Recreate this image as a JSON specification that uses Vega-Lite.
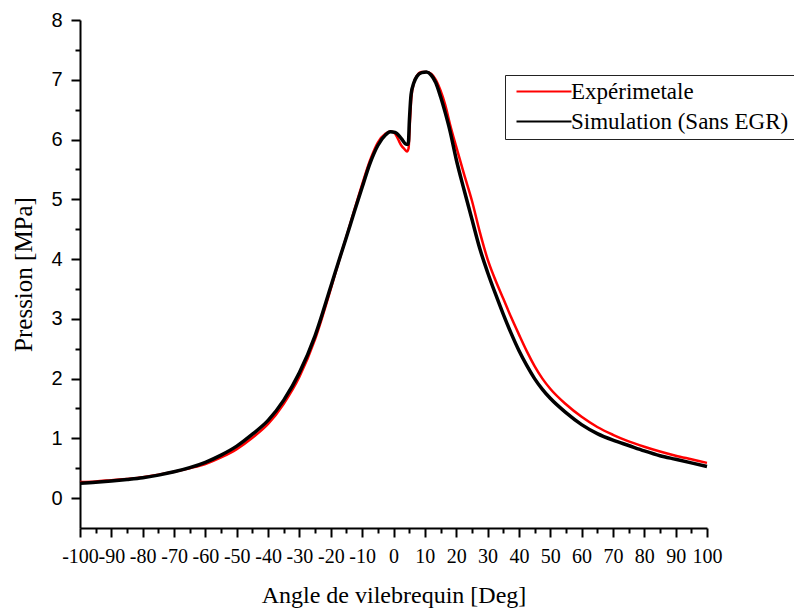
{
  "$schema": "https://vega.github.io/schema/vega-lite/v6.json",
  "width": 627,
  "height": 508,
  "autosize": "none",
  "padding": {"left": 80, "top": 20, "right": 87, "bottom": 82},
  "background": "white",
  "config": {"view": {"stroke": null}},
  "datasets": {
    "curves": [
      {"angle": -100, "pression": 0.27, "serie": "Expérimetale"},
      {"angle": -95, "pression": 0.28, "serie": "Expérimetale"},
      {"angle": -90, "pression": 0.30, "serie": "Expérimetale"},
      {"angle": -85, "pression": 0.32, "serie": "Expérimetale"},
      {"angle": -80, "pression": 0.35, "serie": "Expérimetale"},
      {"angle": -75, "pression": 0.39, "serie": "Expérimetale"},
      {"angle": -70, "pression": 0.44, "serie": "Expérimetale"},
      {"angle": -65, "pression": 0.50, "serie": "Expérimetale"},
      {"angle": -60, "pression": 0.57, "serie": "Expérimetale"},
      {"angle": -55, "pression": 0.68, "serie": "Expérimetale"},
      {"angle": -50, "pression": 0.82, "serie": "Expérimetale"},
      {"angle": -45, "pression": 1.01, "serie": "Expérimetale"},
      {"angle": -40, "pression": 1.24, "serie": "Expérimetale"},
      {"angle": -35, "pression": 1.58, "serie": "Expérimetale"},
      {"angle": -30, "pression": 2.03, "serie": "Expérimetale"},
      {"angle": -25, "pression": 2.66, "serie": "Expérimetale"},
      {"angle": -20, "pression": 3.50, "serie": "Expérimetale"},
      {"angle": -17.5, "pression": 3.95, "serie": "Expérimetale"},
      {"angle": -15, "pression": 4.38, "serie": "Expérimetale"},
      {"angle": -12.5, "pression": 4.82, "serie": "Expérimetale"},
      {"angle": -10, "pression": 5.25, "serie": "Expérimetale"},
      {"angle": -7.5, "pression": 5.65, "serie": "Expérimetale"},
      {"angle": -5, "pression": 5.95, "serie": "Expérimetale"},
      {"angle": -2.5, "pression": 6.10, "serie": "Expérimetale"},
      {"angle": -1, "pression": 6.14, "serie": "Expérimetale"},
      {"angle": 0.5, "pression": 6.10, "serie": "Expérimetale"},
      {"angle": 1.5, "pression": 6.00, "serie": "Expérimetale"},
      {"angle": 2.5, "pression": 5.90, "serie": "Expérimetale"},
      {"angle": 3.5, "pression": 5.84, "serie": "Expérimetale"},
      {"angle": 4.3, "pression": 5.80, "serie": "Expérimetale"},
      {"angle": 4.8, "pression": 5.85, "serie": "Expérimetale"},
      {"angle": 5.2, "pression": 6.25, "serie": "Expérimetale"},
      {"angle": 5.7, "pression": 6.70, "serie": "Expérimetale"},
      {"angle": 6.5, "pression": 6.95, "serie": "Expérimetale"},
      {"angle": 7.5, "pression": 7.07, "serie": "Expérimetale"},
      {"angle": 9, "pression": 7.13, "serie": "Expérimetale"},
      {"angle": 10.5, "pression": 7.13, "serie": "Expérimetale"},
      {"angle": 12, "pression": 7.10, "serie": "Expérimetale"},
      {"angle": 13.5, "pression": 7.00, "serie": "Expérimetale"},
      {"angle": 15, "pression": 6.82, "serie": "Expérimetale"},
      {"angle": 16.5, "pression": 6.58, "serie": "Expérimetale"},
      {"angle": 18, "pression": 6.26, "serie": "Expérimetale"},
      {"angle": 20, "pression": 5.88, "serie": "Expérimetale"},
      {"angle": 22.5, "pression": 5.42, "serie": "Expérimetale"},
      {"angle": 25, "pression": 4.98, "serie": "Expérimetale"},
      {"angle": 27.5, "pression": 4.46, "serie": "Expérimetale"},
      {"angle": 30, "pression": 4.00, "serie": "Expérimetale"},
      {"angle": 32.5, "pression": 3.65, "serie": "Expérimetale"},
      {"angle": 35, "pression": 3.34, "serie": "Expérimetale"},
      {"angle": 37.5, "pression": 3.03, "serie": "Expérimetale"},
      {"angle": 40, "pression": 2.74, "serie": "Expérimetale"},
      {"angle": 42.5, "pression": 2.46, "serie": "Expérimetale"},
      {"angle": 45, "pression": 2.21, "serie": "Expérimetale"},
      {"angle": 47.5, "pression": 2.00, "serie": "Expérimetale"},
      {"angle": 50, "pression": 1.83, "serie": "Expérimetale"},
      {"angle": 55, "pression": 1.57, "serie": "Expérimetale"},
      {"angle": 60, "pression": 1.36, "serie": "Expérimetale"},
      {"angle": 65, "pression": 1.19, "serie": "Expérimetale"},
      {"angle": 70, "pression": 1.06, "serie": "Expérimetale"},
      {"angle": 75, "pression": 0.95, "serie": "Expérimetale"},
      {"angle": 80, "pression": 0.86, "serie": "Expérimetale"},
      {"angle": 85, "pression": 0.78, "serie": "Expérimetale"},
      {"angle": 90, "pression": 0.71, "serie": "Expérimetale"},
      {"angle": 95, "pression": 0.65, "serie": "Expérimetale"},
      {"angle": 100, "pression": 0.59, "serie": "Expérimetale"},
      {"angle": -100, "pression": 0.25, "serie": "Simulation (Sans EGR)"},
      {"angle": -95, "pression": 0.265, "serie": "Simulation (Sans EGR)"},
      {"angle": -90, "pression": 0.285, "serie": "Simulation (Sans EGR)"},
      {"angle": -85, "pression": 0.31, "serie": "Simulation (Sans EGR)"},
      {"angle": -80, "pression": 0.34, "serie": "Simulation (Sans EGR)"},
      {"angle": -75, "pression": 0.385, "serie": "Simulation (Sans EGR)"},
      {"angle": -70, "pression": 0.44, "serie": "Simulation (Sans EGR)"},
      {"angle": -65, "pression": 0.51, "serie": "Simulation (Sans EGR)"},
      {"angle": -60, "pression": 0.60, "serie": "Simulation (Sans EGR)"},
      {"angle": -55, "pression": 0.72, "serie": "Simulation (Sans EGR)"},
      {"angle": -50, "pression": 0.87, "serie": "Simulation (Sans EGR)"},
      {"angle": -45, "pression": 1.07, "serie": "Simulation (Sans EGR)"},
      {"angle": -40, "pression": 1.30, "serie": "Simulation (Sans EGR)"},
      {"angle": -35, "pression": 1.64, "serie": "Simulation (Sans EGR)"},
      {"angle": -30, "pression": 2.10, "serie": "Simulation (Sans EGR)"},
      {"angle": -25, "pression": 2.72, "serie": "Simulation (Sans EGR)"},
      {"angle": -20, "pression": 3.54, "serie": "Simulation (Sans EGR)"},
      {"angle": -17.5, "pression": 3.96, "serie": "Simulation (Sans EGR)"},
      {"angle": -15, "pression": 4.37, "serie": "Simulation (Sans EGR)"},
      {"angle": -12.5, "pression": 4.79, "serie": "Simulation (Sans EGR)"},
      {"angle": -10, "pression": 5.20, "serie": "Simulation (Sans EGR)"},
      {"angle": -7.5, "pression": 5.60, "serie": "Simulation (Sans EGR)"},
      {"angle": -5, "pression": 5.90, "serie": "Simulation (Sans EGR)"},
      {"angle": -2.5, "pression": 6.08, "serie": "Simulation (Sans EGR)"},
      {"angle": -1, "pression": 6.13, "serie": "Simulation (Sans EGR)"},
      {"angle": 0.5, "pression": 6.12, "serie": "Simulation (Sans EGR)"},
      {"angle": 2, "pression": 6.05, "serie": "Simulation (Sans EGR)"},
      {"angle": 3, "pression": 5.98, "serie": "Simulation (Sans EGR)"},
      {"angle": 4, "pression": 5.92, "serie": "Simulation (Sans EGR)"},
      {"angle": 4.7, "pression": 5.92, "serie": "Simulation (Sans EGR)"},
      {"angle": 5.1, "pression": 6.35, "serie": "Simulation (Sans EGR)"},
      {"angle": 5.6, "pression": 6.75, "serie": "Simulation (Sans EGR)"},
      {"angle": 6.5, "pression": 6.95, "serie": "Simulation (Sans EGR)"},
      {"angle": 7.5, "pression": 7.06, "serie": "Simulation (Sans EGR)"},
      {"angle": 9, "pression": 7.12, "serie": "Simulation (Sans EGR)"},
      {"angle": 10.5, "pression": 7.13, "serie": "Simulation (Sans EGR)"},
      {"angle": 12, "pression": 7.08, "serie": "Simulation (Sans EGR)"},
      {"angle": 13.5, "pression": 6.95, "serie": "Simulation (Sans EGR)"},
      {"angle": 15, "pression": 6.72, "serie": "Simulation (Sans EGR)"},
      {"angle": 16.5, "pression": 6.45, "serie": "Simulation (Sans EGR)"},
      {"angle": 18, "pression": 6.15, "serie": "Simulation (Sans EGR)"},
      {"angle": 20, "pression": 5.67, "serie": "Simulation (Sans EGR)"},
      {"angle": 22.5, "pression": 5.16, "serie": "Simulation (Sans EGR)"},
      {"angle": 25, "pression": 4.67, "serie": "Simulation (Sans EGR)"},
      {"angle": 27.5, "pression": 4.18, "serie": "Simulation (Sans EGR)"},
      {"angle": 30, "pression": 3.78, "serie": "Simulation (Sans EGR)"},
      {"angle": 32.5, "pression": 3.42, "serie": "Simulation (Sans EGR)"},
      {"angle": 35, "pression": 3.08, "serie": "Simulation (Sans EGR)"},
      {"angle": 37.5, "pression": 2.76, "serie": "Simulation (Sans EGR)"},
      {"angle": 40, "pression": 2.47, "serie": "Simulation (Sans EGR)"},
      {"angle": 42.5, "pression": 2.22, "serie": "Simulation (Sans EGR)"},
      {"angle": 45, "pression": 2.00, "serie": "Simulation (Sans EGR)"},
      {"angle": 47.5, "pression": 1.82, "serie": "Simulation (Sans EGR)"},
      {"angle": 50, "pression": 1.67, "serie": "Simulation (Sans EGR)"},
      {"angle": 55, "pression": 1.43, "serie": "Simulation (Sans EGR)"},
      {"angle": 60, "pression": 1.23, "serie": "Simulation (Sans EGR)"},
      {"angle": 65, "pression": 1.08, "serie": "Simulation (Sans EGR)"},
      {"angle": 70, "pression": 0.97, "serie": "Simulation (Sans EGR)"},
      {"angle": 75, "pression": 0.88, "serie": "Simulation (Sans EGR)"},
      {"angle": 80, "pression": 0.79, "serie": "Simulation (Sans EGR)"},
      {"angle": 85, "pression": 0.71, "serie": "Simulation (Sans EGR)"},
      {"angle": 90, "pression": 0.65, "serie": "Simulation (Sans EGR)"},
      {"angle": 95, "pression": 0.59, "serie": "Simulation (Sans EGR)"},
      {"angle": 100, "pression": 0.53, "serie": "Simulation (Sans EGR)"}
    ]
  },
  "data": {"name": "curves"},
  "resolve": {"axis": {"x": "independent", "y": "independent"}},
  "layer": [
    {
      "transform": [{"filter": "datum.serie === 'Expérimetale'"}],
      "mark": {"type": "line", "strokeWidth": 2.5, "interpolate": "monotone"},
      "encoding": {
        "x": {
          "field": "angle", "type": "quantitative",
          "scale": {"domain": [-100, 100], "nice": false, "zero": false},
          "axis": {
            "orient": "bottom",
            "title": "Angle de vilebrequin [Deg]",
            "values": [-100, -90, -80, -70, -60, -50, -40, -30, -20, -10, 0, 10, 20, 30, 40, 50, 60, 70, 80, 90, 100],
            "labelExpr": "toString(datum.value)",
            "grid": false, "labelOverlap": false, "labelFlush": false,
            "labelFont": "Liberation Serif", "labelFontSize": 20, "labelColor": "black",
            "tickColor": "black", "tickWidth": 2, "tickSize": 9,
            "domainColor": "black", "domainWidth": 2,
            "labelPadding": 9,
            "titleFont": "Liberation Serif", "titleFontSize": 24, "titleFontWeight": "normal", "titleColor": "black",
            "titlePadding": 17
          }
        },
        "y": {
          "field": "pression", "type": "quantitative",
          "scale": {"domain": [-0.5, 8], "nice": false, "zero": false},
          "axis": {
            "orient": "left",
            "title": "Pression [MPa]",
            "values": [0, 1, 2, 3, 4, 5, 6, 7, 8],
            "grid": false, "labelOverlap": false, "labelFlush": false,
            "labelFont": "Liberation Sans", "labelFontSize": 20, "labelColor": "black",
            "tickColor": "black", "tickWidth": 2, "tickSize": 9,
            "domainColor": "black", "domainWidth": 2,
            "labelPadding": 9,
            "titleFont": "Liberation Serif", "titleFontSize": 25, "titleFontWeight": "normal", "titleColor": "black",
            "titlePadding": 14
          }
        },
        "color": {
          "field": "serie", "type": "nominal",
          "scale": {"domain": ["Expérimetale", "Simulation (Sans EGR)"], "range": ["#ff0000", "#000000"]},
          "legend": {
            "title": null,
            "orient": "none",
            "legendX": 425,
            "legendY": 55,
            "padding": 5,
            "strokeColor": "#222222",
            "fillColor": "white",
            "symbolType": "M-1,0H10",
            "symbolSize": 100,
            "symbolStrokeWidth": 2,
            "labelOffset": 38,
            "labelFont": "Liberation Serif",
            "labelFontSize": 23,
            "labelColor": "black",
            "labelLimit": 400,
            "rowPadding": 6
          }
        }
      }
    },
    {
      "transform": [{"filter": "datum.serie === 'Simulation (Sans EGR)'"}],
      "mark": {"type": "line", "strokeWidth": 3.5, "interpolate": "monotone"},
      "encoding": {
        "x": {"field": "angle", "type": "quantitative", "axis": null},
        "y": {"field": "pression", "type": "quantitative", "axis": null},
        "color": {"field": "serie", "type": "nominal"}
      }
    },
    {
      "mark": {"type": "line", "opacity": 0},
      "encoding": {
        "x": {
          "field": "angle", "type": "quantitative",
          "axis": {
            "orient": "bottom", "title": null, "labels": false, "domain": false, "grid": false,
            "values": [-95, -85, -75, -65, -55, -45, -35, -25, -15, -5, 5, 15, 25, 35, 45, 55, 65, 75, 85, 95],
            "tickColor": "black", "tickWidth": 2, "tickSize": 5
          }
        },
        "y": {
          "field": "pression", "type": "quantitative",
          "axis": {
            "orient": "left", "title": null, "labels": false, "domain": false, "grid": false,
            "values": [0.5, 1.5, 2.5, 3.5, 4.5, 5.5, 6.5, 7.5],
            "tickColor": "black", "tickWidth": 2, "tickSize": 5
          }
        },
        "detail": {"field": "serie", "type": "nominal"}
      }
    }
  ]
}
